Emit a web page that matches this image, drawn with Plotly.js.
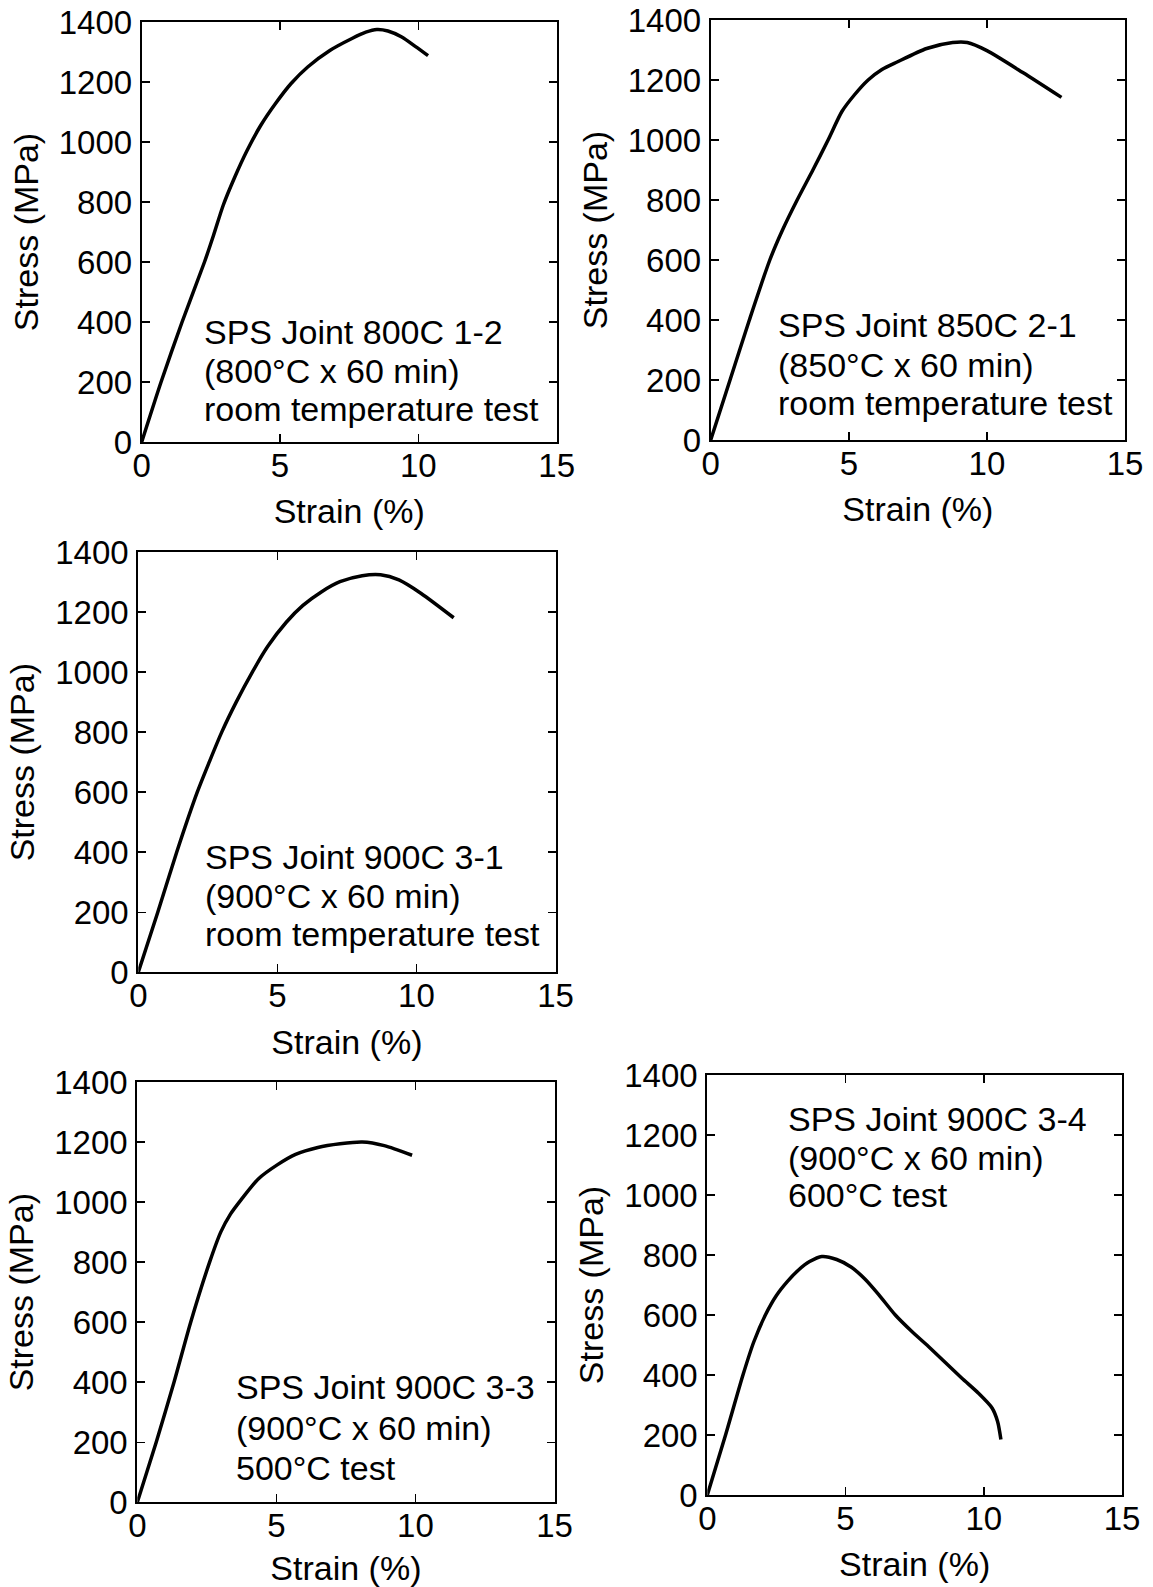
<!DOCTYPE html>
<html>
<head>
<meta charset="utf-8">
<script src="https://cdn.plot.ly/plotly-3.0.1.min.js"></script>
<style>html,body{margin:0;padding:0;background:#fff;}#chart{width:1153px;height:1587px;}</style>
</head>
<body>
<div id="chart"></div>
<script>
// ---- data ----
const xTickVals = [0, 5, 10, 15];
const xTickText = ["0", "5", "10", "15"];
const yTickVals = [0, 200, 400, 600, 800, 1000, 1200, 1400];
const yTickText = ["0", "200", "400", "600", "800", "1000", "1200", "1400"];

const strain1 = [0, 0.7, 1.46, 2.27, 2.6, 2.95, 3.35, 3.8, 4.3, 4.85, 5.4, 6.0, 6.8, 7.6, 8.1, 8.5, 8.9, 9.4, 9.9, 10.35];
const stress1 = [0, 200, 400, 600, 690, 790, 880, 970, 1055, 1130, 1195, 1250, 1305, 1345, 1366, 1375, 1370, 1350, 1318, 1288];

const strain2 = [0, 0.7, 1.4, 2.14, 2.6, 3.13, 3.7, 4.25, 4.75, 5.2, 5.7, 6.2, 6.75, 7.82, 8.76, 9.29, 10.0, 11.3, 12.7];
const stress2 = [0, 200, 400, 600, 700, 800, 900, 1000, 1095, 1150, 1200, 1235, 1260, 1305, 1325, 1325, 1298, 1225, 1142];

const strain3 = [0, 0.7, 1.38, 2.12, 2.55, 3.0, 3.52, 4.1, 4.65, 5.32, 5.92, 6.58, 7.25, 8.05, 8.71, 9.37, 10.17, 11.34];
const stress3 = [0, 200, 400, 600, 700, 800, 900, 1000, 1085, 1166, 1222, 1267, 1301, 1321, 1324, 1307, 1262, 1181];

const strain4 = [0, 0.68, 1.32, 1.92, 2.6, 3.0, 3.35, 3.75, 4.36, 5.03, 5.69, 6.49, 7.29, 8.09, 8.88, 9.88];
const stress4 = [0, 200, 400, 600, 800, 900, 960, 1010, 1078, 1124, 1159, 1182, 1194, 1200, 1188, 1156];

const strain5 = [0, 0.66, 1.29, 1.68, 2.1, 2.5, 2.9, 3.3, 3.7, 4.14, 4.68, 5.2, 5.7, 6.2, 6.8, 7.4, 8.0, 9.2, 9.8, 10.3, 10.5, 10.62];
const stress5 = [0, 200, 400, 510, 600, 665, 712, 750, 778, 795, 785, 760, 720, 668, 600, 545, 495, 390, 340, 290, 245, 185];

const label1 = ["SPS Joint 800C 1-2", "(800°C x 60 min)", "room temperature test"];
const label2 = ["SPS Joint 850C 2-1", "(850°C x 60 min)", "room temperature test"];
const label3 = ["SPS Joint 900C 3-1", "(900°C x 60 min)", "room temperature test"];
const label4 = ["SPS Joint 900C 3-3", "(900°C x 60 min)", "500°C test"];
const label5 = ["SPS Joint 900C 3-4", "(900°C x 60 min)", "600°C test"];

const xTitle = "Strain (%)";
const yTitle = "Stress (MPa)";

// ---- layout / styling ----
const FONT = "Liberation Sans, Arial, Helvetica, sans-serif";
const W = 1153, H = 1587;
// pixel boxes of the panels [left, right, top, bottom]
const boxes = [
  [141.7, 556.7, 22, 442],
  [710.7, 1125, 20, 440],
  [138.3, 555.5, 552, 972.3],
  [137.3, 554.5, 1082, 1502.3],
  [707.3, 1122, 1075, 1495]
];
const series = [[strain1, stress1], [strain2, stress2], [strain3, stress3], [strain4, stress4], [strain5, stress5]];
const labels = [label1, label2, label3, label4, label5];
const labelPos = [
  {x: 2.17, y: [367, 238, 110]},
  {x: 2.35, y: [384, 250, 122]},
  {x: 2.31, y: [385, 255, 127]},
  {x: 3.48, y: [385, 247, 115]},
  {x: 2.85, y: [1253, 1122, 999]}
];

const traces = [];
const layout = {
  width: W, height: H,
  margin: {l: 0, r: 0, t: 0, b: 0, pad: 0},
  paper_bgcolor: "#ffffff", plot_bgcolor: "#ffffff",
  showlegend: false,
  font: {family: FONT, color: "#000", size: 33},
  annotations: []
};

series.forEach((s, i) => {
  const n = i === 0 ? "" : String(i + 1);
  const b = boxes[i];
  traces.push({
    x: s[0], y: s[1], type: "scatter", mode: "lines",
    xaxis: "x" + n, yaxis: "y" + n,
    line: {color: "#000", width: 3.5, shape: "spline", smoothing: 0.7},
    hoverinfo: "skip"
  });
  const common = {
    showline: true, linecolor: "#000", linewidth: 2, mirror: "ticks",
    ticks: "inside", ticklen: 8, tickwidth: 1.5, tickcolor: "#000",
    showgrid: false, zeroline: false, automargin: false,
    tickfont: {family: FONT, size: 33, color: "#000"}
  };
  layout["xaxis" + n] = Object.assign({}, common, {
    domain: [b[0] / W, b[1] / W], anchor: "y" + n,
    range: [0, 15], tickvals: xTickVals, ticktext: xTickText,
    ticklabelstandoff: -7,
    title: {text: xTitle, font: {family: FONT, size: 34, color: "#000"}, standoff: 17}
  });
  layout["yaxis" + n] = Object.assign({}, common, {
    domain: [1 - b[3] / H, 1 - b[2] / H], anchor: "x" + n,
    range: [0, 1400], tickvals: yTickVals, ticktext: yTickText,
    ticklabelstandoff: 1,
    title: {text: yTitle, font: {family: FONT, size: 34, color: "#000"}, standoff: 10}
  });
  labels[i].forEach((t, j) => {
    layout.annotations.push({
      text: t, xref: "x" + n, yref: "y" + n,
      x: labelPos[i].x, y: labelPos[i].y[j],
      xanchor: "left", yanchor: "middle", showarrow: false,
      font: {family: FONT, size: 34, color: "#000"}
    });
  });
});

Plotly.newPlot("chart", traces, layout, {staticPlot: true, displayModeBar: false});
</script>
</body>
</html>
